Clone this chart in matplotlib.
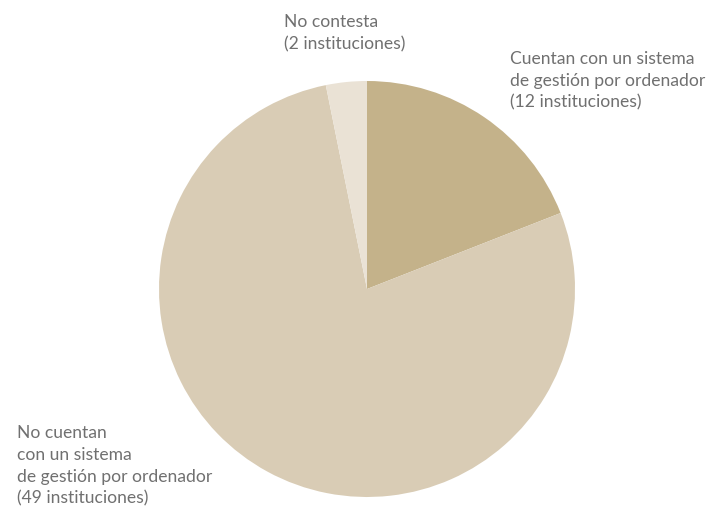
import matplotlib.pyplot as plt

categories = ['Cuentan con un sistema\nde gestión por ordenador\n(12 instituciones)',
              'No cuentan\ncon un sistema\nde gestión por ordenador\n(49 instituciones)',
              'No contesta\n(2 instituciones)']
values = [12, 49, 2]
colors = ['#C4B28A', '#D9CCB5', '#EAE2D5']

plt.rcParams['font.family'] = ['Lato', 'DejaVu Sans']

fig = plt.figure(figsize=(7.12, 5.09), dpi=100)
ax = fig.add_axes([159 / 712, 12 / 509, 416 / 712, 416 / 509])

ax.pie(values, colors=colors, startangle=90, counterclock=False, radius=1,
       wedgeprops=dict(linewidth=0))
ax.set_xlim(-1, 1)
ax.set_ylim(-1, 1)
ax.set_aspect('equal')
ax.axis('off')

# label positions in figure pixels (left, top)
label_pos = [(510, 51), (17, 425), (284, 14)]
for text, (x, y) in zip(categories, label_pos):
    fig.text(x / 712, 1 - y / 509, text, ha='left', va='top', fontsize=12.6,
             color='#707070', linespacing=1.45)

fig.savefig('out.png', dpi=100)
